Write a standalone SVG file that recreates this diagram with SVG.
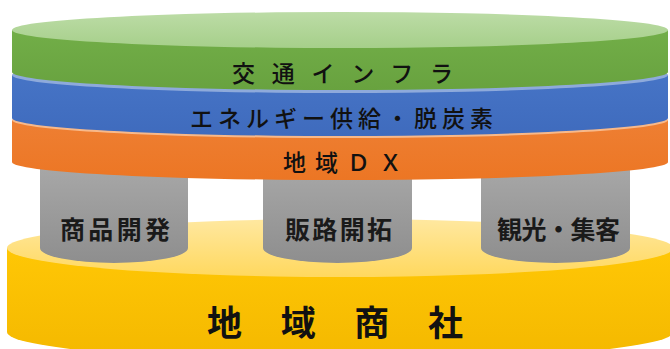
<svg xmlns="http://www.w3.org/2000/svg" width="670" height="349" viewBox="0 0 670 349">
<defs>
<linearGradient id="gTop" x1="0" y1="0" x2="0" y2="1"><stop offset="0" stop-color="#bcdca6"/><stop offset="1" stop-color="#a6cf8a"/></linearGradient>
<linearGradient id="gSide" x1="0" y1="0" x2="0" y2="1"><stop offset="0" stop-color="#72ae48"/><stop offset="1" stop-color="#68a23f"/></linearGradient>
<linearGradient id="bSide" x1="0" y1="0" x2="0" y2="1"><stop offset="0" stop-color="#4674c6"/><stop offset="1" stop-color="#3f6bbd"/></linearGradient>
<linearGradient id="oSide" x1="0" y1="0" x2="0" y2="1"><stop offset="0" stop-color="#ee7f33"/><stop offset="1" stop-color="#ec7624"/></linearGradient>
<linearGradient id="pil" x1="0" y1="0" x2="0" y2="1"><stop offset="0" stop-color="#a9a9a9"/><stop offset="1" stop-color="#8e8e8e"/></linearGradient>
<linearGradient id="yTop" x1="0" y1="0" x2="0" y2="1"><stop offset="0" stop-color="#ffe8a0"/><stop offset="1" stop-color="#ffd85e"/></linearGradient>
<linearGradient id="ySide" x1="0" y1="0" x2="0" y2="1"><stop offset="0" stop-color="#ffc705"/><stop offset="1" stop-color="#f4b800"/></linearGradient>
</defs>
<style>
.t{font-family:"Noto Sans CJK JP","Noto Sans CJK SC",sans-serif;fill:#111;dominant-baseline:central;text-anchor:middle}
.band{font-size:23px;font-weight:500}
.pt{font-size:25px;font-weight:700;fill:#1a1a1a}
.big{font-size:35px;font-weight:700}
</style>

<g id="base">
<path d="M7,248 L7,332 A333,29 0 0 0 673,332 L673,248 Z" fill="url(#ySide)"/>
<ellipse cx="340" cy="248" rx="333" ry="29" fill="url(#yTop)"/>
<text class="t big" x="335" y="320" textLength="256" lengthAdjust="spacing">地域商社</text>
</g>

<g id="pillar1">
<path d="M40,160 L40,248 A74,15 0 0 0 188,248 L188,160 Z" fill="url(#pil)"/>
<text class="t pt" x="115" y="228" textLength="110" lengthAdjust="spacing">商品開発</text>
</g>
<g id="pillar2">
<path d="M263,160 L263,248 A74.5,15 0 0 0 412,248 L412,160 Z" fill="url(#pil)"/>
<text class="t pt" x="338.5" y="228" textLength="107" lengthAdjust="spacing">販路開拓</text>
</g>
<g id="pillar3">
<path d="M481,160 L481,248 A74.5,15 0 0 0 630,248 L630,160 Z" fill="url(#pil)"/>
<text class="t pt" x="558.5" y="228" textLength="123" lengthAdjust="spacing">観光・集客</text>
</g>

<g id="dx">
<path d="M12,120 L12,162 A328,18 0 0 0 668,162 L668,120 Z" fill="url(#oSide)"/>
<ellipse cx="340" cy="120" rx="328" ry="18" fill="#f8b98a"/>
<text class="t band" x="342.5" y="161" textLength="119" lengthAdjust="spacing">地域ＤＸ</text>
</g>

<g id="energy">
<path d="M12,75 L12,118 A328,18 0 0 0 668,118 L668,75 Z" fill="url(#bSide)"/>
<ellipse cx="340" cy="75" rx="328" ry="18" fill="#8eaadb"/>
<text class="t band" x="341.5" y="117" font-size="25" textLength="303" lengthAdjust="spacing">エネルギー供給・脱炭素</text>
</g>

<g id="transport">
<path d="M12,30 L12,72 A328,18 0 0 0 668,72 L668,30 Z" fill="url(#gSide)"/>
<ellipse cx="340" cy="30" rx="328" ry="18" fill="url(#gTop)"/>
<text class="t band" x="342.5" y="72" textLength="221" lengthAdjust="spacing">交通インフラ</text>
</g>

<g id="connectors"/>
</svg>
